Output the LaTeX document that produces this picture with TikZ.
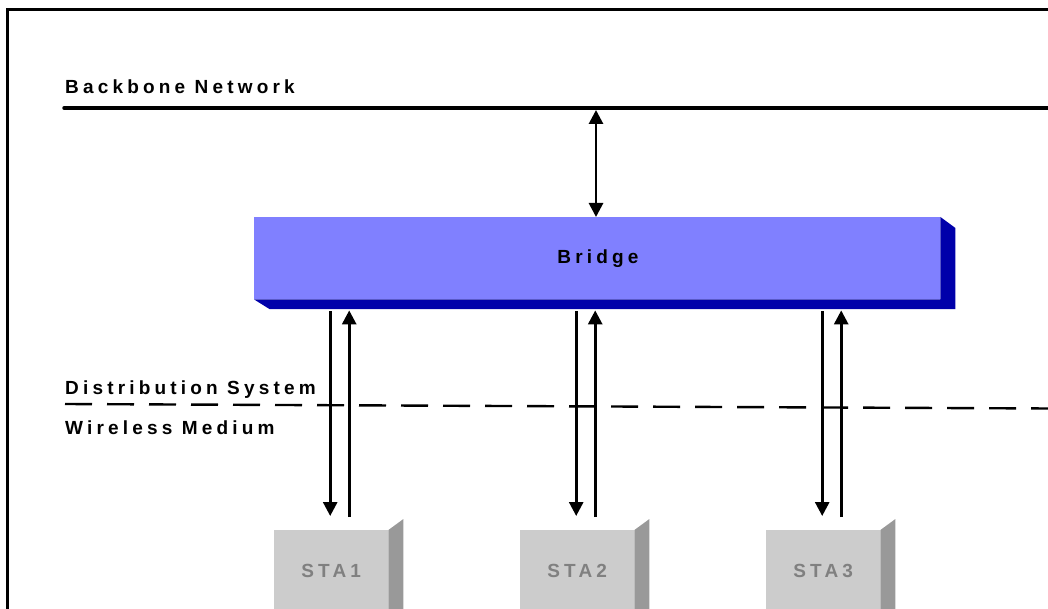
\documentclass[tikz,border=0pt]{standalone}
\usepackage{fontspec}
\newfontfamily\lblfont{Liberation Sans}[LetterSpace=22]
\usetikzlibrary{arrows.meta}
\definecolor{bridgefront}{RGB}{128,128,255}
\definecolor{bridgedark}{RGB}{0,0,170}
\definecolor{stafront}{RGB}{204,204,204}
\definecolor{staside}{RGB}{153,153,153}
\definecolor{statext}{RGB}{128,128,128}
\tikzset{
  lbl/.style={font=\lblfont\fontsize{19pt}{22pt}\selectfont\bfseries, inner sep=0pt},
  flow/.style={line width=2.8pt, arrows={-Triangle[length=14pt,width=14pt]}},
  twoway/.style={line width=2.8pt, arrows={Triangle[length=14pt,width=14pt]-Triangle[length=14pt,width=14pt]}},
  stabox/.style={fill=stafront, minimum width=114pt, minimum height=82pt, inner sep=0pt,
    anchor=north west, lbl, text=statext},
  medium/.style={line width=2.4pt, dash pattern=on 27pt off 15pt}
}
\begin{document}
\begin{tikzpicture}[x=1pt,y=-1pt]
\useasboundingbox (0,0) rectangle (1048,609);
\clip (0,0) rectangle (1048,609);
% outer frame
\draw[line width=3pt] (7.5,9.5) rectangle (1070,630);

% backbone network
\node[lbl, anchor=base west] (bbtext) at (65,94) {Backbone Network};
\coordinate (bbL) at (64,108);
\coordinate (bbR) at (1060,108);
\draw[line width=3.5pt, line cap=round] (bbL) -- (bbR);

% bridge: front face plus extruded side and bottom faces
\node[fill=bridgefront, minimum width=686pt, minimum height=82pt, inner sep=0pt,
      anchor=north west] (bridge) at (254,217) {};
\fill[bridgedark] (bridge.north east) -- ++(15,11) -- ++(0,81) -- ++(-686,0)
      -- (bridge.south west) -- (bridge.south east) -- cycle;
\node[lbl, anchor=base] (bridgelabel) at (598,264) {Bridge};

% link between backbone and bridge
\coordinate (bbtap) at (596,110);
\draw[twoway] (bbtap) -- (bbtap |- bridge.north);

% stations
\node[stabox] (sta1) at (274,530) {STA1};
\node[stabox] (sta2) at (520,530) {STA2};
\node[stabox] (sta3) at (766,530) {STA3};

\foreach \s in {sta1,sta2,sta3}{
  \fill[staside] (\s.north east) -- ++(15,-11) -- ++(0,120) -- (\s.south east) -- cycle;
  \path (bridge.south -| \s.north) ++(-1,12) coordinate (\s-dtop);
  \path (\s.north) ++(-1,-14) coordinate (\s-dbot);
  \path (bridge.south -| \s.north) ++(18,11) coordinate (\s-utop);
  \path (\s.north) ++(18,-13) coordinate (\s-ubot);
  \draw[flow] (\s-dtop) -- (\s-dbot);
  \draw[flow] (\s-ubot) -- (\s-utop);
}

% boundary between distribution system and wireless medium
\node[lbl, anchor=base west] (dstext) at (65,394) {Distribution System};
\node[lbl, anchor=base west] (wmtext) at (65,434) {Wireless Medium};
\coordinate (dsL) at (65,404);
\coordinate (dsR) at (1050,408.5);
\draw[medium] (dsL) -- (dsR);
\end{tikzpicture}
\end{document}
